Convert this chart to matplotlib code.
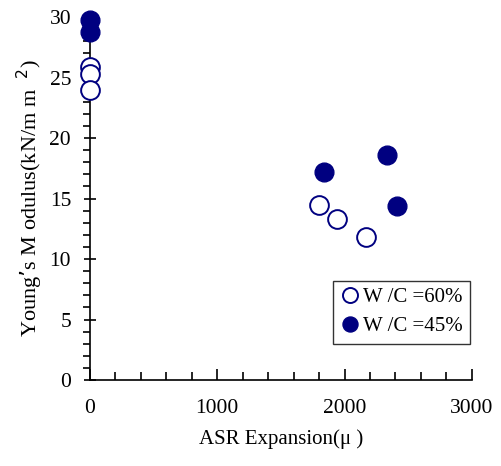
import matplotlib
matplotlib.use("Agg")
import matplotlib.pyplot as plt
from matplotlib.ticker import MultipleLocator

plt.rcParams['font.family'] = ['Liberation Serif', 'DejaVu Serif']

# W/C = 60% (open circles)
wc60_x = [0, 0, 0, 1800, 1940, 2170]
wc60_y = [25.9, 25.3, 24.0, 14.5, 13.3, 11.8]

# W/C = 45% (filled circles)
wc45_x = [0, 0, 1840, 2330, 2410]
wc45_y = [29.75, 28.8, 17.2, 18.6, 14.4]

navy = '#000080'

fig = plt.figure(figsize=(5.02, 4.66), dpi=100)
ax = fig.add_axes([0.179, 0.1845, 0.761, 0.779])

ax.plot(wc60_x, wc60_y, 'o', ms=13.5, mfc='white', mec=navy, mew=1.4,
        ls='none', label='W /C =60%', clip_on=False, zorder=3)
ax.plot(wc45_x, wc45_y, 'o', ms=13.5, mfc=navy, mec=navy,
        ls='none', label='W /C =45%', clip_on=False, zorder=3)

ax.set_xlim(0, 3000)
ax.set_ylim(0, 30)
ax.xaxis.set_major_locator(MultipleLocator(1000))
ax.xaxis.set_minor_locator(MultipleLocator(200))
ax.yaxis.set_major_locator(MultipleLocator(5))
ax.yaxis.set_minor_locator(MultipleLocator(1))

for s in ['top', 'right']:
    ax.spines[s].set_visible(False)
for s in ['left', 'bottom']:
    ax.spines[s].set_linewidth(1.2)

ax.tick_params(axis='x', which='major', direction='in', length=8, width=1.2,
               labelsize=15.5, pad=14)
ax.tick_params(axis='x', which='minor', direction='in', length=6, width=1.2)
ax.tick_params(axis='y', which='major', direction='inout', length=9, width=1.2,
               labelsize=15.5, pad=9)
ax.tick_params(axis='y', which='minor', direction='out', length=5, width=1.2)

ax.set_xlabel('ASR Expansion(μ )', fontsize=15, labelpad=8)
ax.set_ylabel('Young’s M odulus(kN/m m  $^{2}$)', fontsize=16, labelpad=3)

leg = ax.legend(loc='lower right', bbox_to_anchor=(0.995, 0.1), fontsize=15,
                frameon=True, fancybox=False, edgecolor='black',
                handletextpad=0.1, borderpad=0.35, handlelength=1.0,
                labelspacing=0.45, markerscale=0.8, borderaxespad=0)
leg.get_frame().set_linewidth(1.0)

fig.savefig('out.png', dpi=100)
